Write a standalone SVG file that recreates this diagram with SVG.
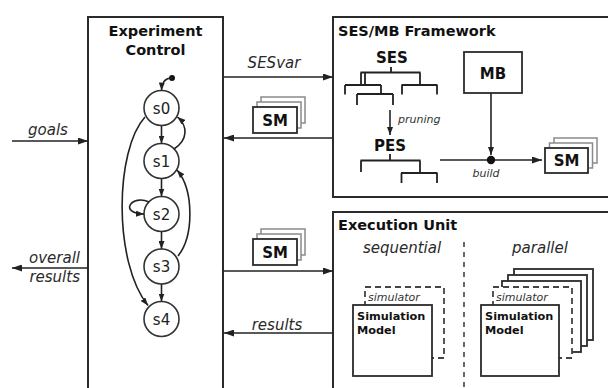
<svg xmlns="http://www.w3.org/2000/svg" width="608" height="388" viewBox="0 0 608 388">
  <style>
    .frame { fill: none; stroke: #2b2b2b; stroke-width: 2; }
    .box { fill: #fff; stroke: #2b2b2b; stroke-width: 1.8; }
    .ghost { fill: #fff; stroke: #8a8a8a; stroke-width: 1.5; }
    .dash { fill: #fff; stroke: #444; stroke-width: 1.8; stroke-dasharray: 6 4; }
    .ln { fill: none; stroke: #222; stroke-width: 1.6; }
    .tree { fill: none; stroke: #222; stroke-width: 1.8; }
    .state { fill: #fff; stroke: #333; stroke-width: 1.6; }
    .title { font-family: "DejaVu Sans", sans-serif; font-weight: bold; font-size: 14.5px; fill: #111; }
    .bold { font-family: "DejaVu Sans", sans-serif; font-weight: bold; font-size: 15px; fill: #111; }
    .lab { font-family: "DejaVu Sans", sans-serif; font-style: italic; font-size: 15px; fill: #2a2a2a; }
    .small { font-family: "DejaVu Sans", sans-serif; font-style: italic; font-size: 11px; fill: #333; }
    .sm { font-family: "DejaVu Sans", sans-serif; font-weight: bold; font-size: 11.3px; fill: #111; }
    .st { font-family: "DejaVu Sans", sans-serif; font-size: 15px; fill: #222; }
  </style>
  <defs>
    <marker id="arr" markerUnits="userSpaceOnUse" markerWidth="10" markerHeight="7" refX="10" refY="3.5" orient="auto">
      <path d="M0,0 L10,3.5 L0,7 z" fill="#222"/>
    </marker>
    <marker id="arrS" markerUnits="userSpaceOnUse" markerWidth="8" markerHeight="6" refX="8" refY="3" orient="auto">
      <path d="M0,0 L8,3 L0,6 z" fill="#222"/>
    </marker>
  </defs>

  <!-- Experiment Control -->
  <g id="experiment-control">
    <path class="frame" d="M88,390 V17 H223 V390"/>
    <text class="title" x="155.5" y="36" text-anchor="middle">Experiment</text>
    <text class="title" x="155.5" y="55" text-anchor="middle">Control</text>
  </g>

  <!-- state machine -->
  <g id="states">
    <circle cx="172" cy="78" r="3" fill="#111"/>
    <circle class="state" cx="161.5" cy="108" r="17.5"/>
    <circle class="state" cx="161.5" cy="161" r="17.5"/>
    <circle class="state" cx="161.5" cy="214" r="17.5"/>
    <circle class="state" cx="161.5" cy="266.5" r="17.5"/>
    <circle class="state" cx="161.5" cy="319" r="17.5"/>
    <text class="st" x="161.5" y="113.5" text-anchor="middle">s0</text>
    <text class="st" x="161.5" y="166.5" text-anchor="middle">s1</text>
    <text class="st" x="161.5" y="219.5" text-anchor="middle">s2</text>
    <text class="st" x="161.5" y="272" text-anchor="middle">s3</text>
    <text class="st" x="161.5" y="324.5" text-anchor="middle">s4</text>
  </g>
  <g id="transitions">
    <path class="ln" d="M172,78 Q162,78 161.5,90.5" marker-end="url(#arrS)"/>
    <path class="ln" d="M161.5,125.5 V143.5" marker-end="url(#arrS)"/>
    <path class="ln" d="M161.5,178.5 V196.5" marker-end="url(#arrS)"/>
    <path class="ln" d="M161.5,231.5 V249" marker-end="url(#arrS)"/>
    <path class="ln" d="M161.5,284 V301.5" marker-end="url(#arrS)"/>
    <path class="ln" d="M174,149 C188,140 188,126 177.5,117" marker-end="url(#arrS)"/>
    <path class="ln" d="M178,256 C194,236 194,190 177,170" marker-end="url(#arrS)"/>
    <path class="ln" d="M145,117 C115,150 113,262 148,305.5" marker-end="url(#arrS)"/>
    <path class="ln" d="M149,202 C132,194 118,213 144,214" marker-end="url(#arrS)"/>
  </g>

  <!-- SES/MB Framework -->
  <g id="sesmb-framework">
    <path class="frame" d="M610,17 H333 V197 H610"/>
    <text class="title" x="338" y="36">SES/MB Framework</text>
    <text class="bold" x="392" y="63" text-anchor="middle">SES</text>
    <path class="tree" d="M391,67 V72.5 M360.5,72.5 H420.5 M361,72.5 V85 M365,72.5 V85 M345,85 H381 M345,85 V94.5 M381,85 V94 M357,94 H393 M357,94 V105 M393,94 V105 M420,72.5 V85 M401.5,85 H437.5 M402,85 V94.5 M437,85 V94.5"/>
    <path class="ln" d="M390,110 V135" marker-end="url(#arrS)"/>
    <text class="small" x="398" y="123">pruning</text>
    <text class="bold" x="390" y="151" text-anchor="middle">PES</text>
    <path class="tree" d="M390,154 V160.5 M360.5,160.5 H420.5 M361,160.5 V172 M420,160.5 V173 M401,173 H437.5 M401.5,173 V183 M437,173 V183"/>
  </g>
  <g id="mb">
    <rect class="box" x="464" y="52" width="58" height="41"/>
    <text class="bold" x="493" y="78.5" text-anchor="middle">MB</text>
  </g>
  <g id="sm-built">
    <rect class="ghost" x="554" y="138" width="43" height="25"/>
    <rect class="ghost" x="549.5" y="143" width="43" height="25"/>
    <rect class="box" x="545" y="148" width="43" height="25"/>
    <text class="bold" x="566.5" y="166" text-anchor="middle">SM</text>
  </g>
  <g id="build-links">
    <path class="ln" d="M491,93 V155" marker-end="url(#arrS)"/>
    <path class="ln" d="M440,160 H542" marker-end="url(#arr)"/>
    <circle cx="491" cy="160" r="4.2" fill="#111"/>
    <text class="small" x="486" y="177" text-anchor="middle">build</text>
  </g>

  <!-- Execution Unit -->
  <g id="execution-unit">
    <path class="frame" d="M610,212 H333 V390"/>
    <text class="title" x="338" y="230">Execution Unit</text>
    <text class="lab" x="402" y="253" text-anchor="middle">sequential</text>
    <text class="lab" x="540" y="253" text-anchor="middle">parallel</text>
    <path d="M464,242 V388" fill="none" stroke="#444" stroke-width="1.6" stroke-dasharray="5 5"/>
  </g>
  <g id="sequential-sim">
    <rect class="dash" x="365" y="287" width="79" height="71"/>
    <text class="small" x="368" y="301">simulator</text>
    <rect class="box" x="353" y="305" width="79" height="71"/>
    <text class="sm" x="357" y="320">Simulation</text>
    <text class="sm" x="357" y="334">Model</text>
  </g>
  <g id="parallel-sim">
    <rect class="box" x="514" y="269" width="79" height="71"/>
    <rect class="box" x="508" y="275" width="79" height="71"/>
    <rect class="box" x="502" y="281" width="79" height="71"/>
    <rect class="dash" x="493" y="287" width="79" height="71"/>
    <text class="small" x="496" y="301">simulator</text>
    <rect class="box" x="481" y="305" width="78" height="71"/>
    <text class="sm" x="485" y="320">Simulation</text>
    <text class="sm" x="485" y="334">Model</text>
  </g>

  <!-- models passed between units -->
  <g id="sm-returned">
    <rect class="ghost" x="261" y="97" width="44" height="26"/>
    <rect class="ghost" x="257" y="102" width="44" height="26"/>
    <rect class="box" x="253" y="107" width="44" height="26"/>
    <text class="bold" x="275" y="125.5" text-anchor="middle">SM</text>
  </g>
  <g id="sm-sent">
    <rect class="ghost" x="261" y="229" width="44" height="26"/>
    <rect class="ghost" x="257" y="234" width="44" height="26"/>
    <rect class="box" x="253" y="239" width="44" height="26"/>
    <text class="bold" x="275" y="257.5" text-anchor="middle">SM</text>
  </g>

  <!-- connectors between units -->
  <g id="connectors">
    <path class="ln" d="M12,141 H88" marker-end="url(#arr)"/>
    <text class="lab" x="48" y="135" text-anchor="middle">goals</text>
    <path class="ln" d="M88,268 H12" marker-end="url(#arr)"/>
    <text class="lab" x="80" y="263" text-anchor="end">overall</text>
    <text class="lab" x="80" y="282" text-anchor="end">results</text>
    <path class="ln" d="M223,77 H333" marker-end="url(#arr)"/>
    <text class="lab" x="274" y="68" text-anchor="middle">SESvar</text>
    <path class="ln" d="M333,138 H224" marker-end="url(#arr)"/>
    <path class="ln" d="M223,271 H333" marker-end="url(#arr)"/>
    <path class="ln" d="M333,333 H224" marker-end="url(#arr)"/>
    <text class="lab" x="277" y="330" text-anchor="middle">results</text>
  </g>
</svg>
